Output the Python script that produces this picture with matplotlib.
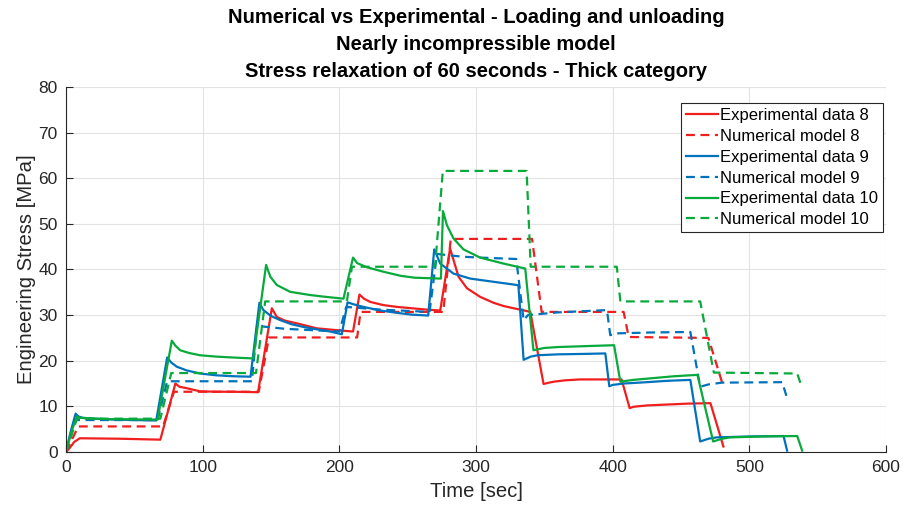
import matplotlib.pyplot as plt

plt.rcParams['font.family'] = ['Liberation Sans', 'DejaVu Sans']

# Experimental data 8 (red, solid)
exp8_t = [0, 3, 6, 10, 12, 40, 69, 80, 83, 88, 98, 110, 122, 140.5,
          150.6, 154.2, 160, 168.8, 183.5, 198, 210, 214.7, 218, 222.5, 232, 242, 253, 264, 273.8,
          281, 283.5, 287.2, 293.3, 303, 312.8, 320, 327.5, 334, 339.7,
          349.4, 352, 356.7, 365, 376, 406.5, 412.4, 415, 425, 440, 455, 471.5, 481]
exp8_s = [0, 1.0, 2.2, 3.0, 3.0, 2.9, 2.7, 15.0, 14.3, 14.0, 13.3, 13.2, 13.2, 13.1,
          31.5, 29.6, 28.8, 28.2, 27.1, 26.7, 26.4, 34.5, 33.6, 32.9, 32.2, 31.8, 31.5, 31.2, 31.0,
          44.6, 42.1, 38.4, 35.9, 34.0, 32.7, 32.0, 31.5, 31.1, 30.7,
          14.9, 15.1, 15.4, 15.7, 15.9, 15.9, 9.6, 9.9, 10.2, 10.4, 10.6, 10.7, 1.2]

# Numerical model 8 (red, dashed)
num8_t = [0, 9, 71, 79, 141, 148.5, 213, 215.5, 276, 281.5, 341, 348, 408, 411.7, 470, 481]
num8_s = [0, 5.6, 5.6, 13.2, 13.2, 25.1, 25.1, 30.7, 30.7, 46.7, 46.7, 30.7, 30.7, 25.2, 25.0, 14.3]

# Experimental data 9 (blue, solid)
exp9_t = [0, 3, 7, 9, 12, 20, 35, 66, 74, 77, 81, 88, 98, 110, 122.5, 135,
          141.5, 144.4, 150, 156.7, 165, 173.7, 183, 193.3, 201.8, 206, 210, 217.6, 230, 242, 253, 265,
          269.4, 273.8, 283.5, 295.8, 312.8, 329.9, 331, 334.8, 340, 345, 360, 380, 394.6,
          397.5, 400, 408, 425, 440, 456.8, 464, 470, 476, 500, 525, 527.6]
exp9_s = [0, 4.0, 8.4, 7.8, 7.5, 7.3, 7.1, 6.9, 20.7, 19.6, 18.7, 17.9, 17.2, 16.8, 16.6, 16.5,
          32.7, 31.1, 29.8, 28.9, 28.0, 27.4, 26.9, 26.4, 25.8, 32.8, 32.4, 31.8, 31.0, 30.5, 30.1, 29.9,
          44.4, 41.3, 39.1, 38.0, 37.3, 36.6, 36.5, 20.2, 20.9, 21.2, 21.4, 21.5, 21.6,
          14.4, 14.7, 15.0, 15.3, 15.6, 15.8, 2.3, 2.9, 3.2, 3.4, 3.5, 0.3]

# Numerical model 9 (blue, dashed)
num9_t = [0, 7, 67, 74, 136, 140, 144, 160, 200, 205, 230, 266, 271.4, 290, 303, 329.4,
          334.8, 338, 360, 395.8, 398.2, 403, 430, 456.8, 464, 470, 480, 524, 527.6]
num9_s = [0, 7.0, 7.0, 15.5, 15.5, 28.3, 27.5, 27.0, 26.4, 31.8, 31.2, 30.7, 43.4, 42.8, 42.6, 42.3,
          28.9, 30.0, 30.6, 31.1, 25.6, 26.0, 26.2, 26.3, 14.3, 14.8, 15.2, 15.3, 11.8]

# Experimental data 10 (green, solid)
exp10_t = [0, 4, 8, 10, 15, 30, 67, 77.4, 80, 83.5, 90, 98, 110, 122.5, 137,
           146.4, 149.5, 154.2, 164, 178.6, 190, 203, 210, 213, 220, 232.3, 245, 255, 274.3,
           275.8, 278.7, 283.5, 290.8, 303, 320, 336,
           342, 350, 360, 380, 401, 405.6, 415, 430, 445, 462, 473.5, 480, 486, 510, 535, 538.6]
exp10_s = [0, 4.5, 7.8, 7.5, 7.4, 7.2, 7.1, 24.4, 23.3, 22.3, 21.7, 21.2, 20.9, 20.7, 20.5,
           41.0, 38.4, 36.6, 35.1, 34.4, 34.0, 33.6, 42.6, 41.4, 40.5, 39.5, 38.6, 38.2, 38.0,
           52.8, 49.7, 46.8, 44.4, 42.6, 41.3, 40.2,
           22.3, 22.8, 23.0, 23.2, 23.4, 15.4, 15.8, 16.2, 16.6, 16.9, 2.3, 2.9, 3.2, 3.4, 3.5, 0.3]

# Numerical model 10 (green, dashed)
num10_t = [0, 8, 69, 77, 139, 145.7, 205.5, 209.2, 270, 275.7, 337, 340, 403, 405.6, 464, 474, 535, 538.6]
num10_s = [0, 7.3, 7.3, 17.3, 17.3, 33.0, 33.0, 40.6, 40.6, 61.6, 61.6, 40.6, 40.6, 33.0, 33.0, 17.4, 17.2, 14.0]

red = '#F01E1E'
blue = '#0072BD'
green = '#09AA3C'
dash = (4, 2.5)

fig = plt.figure(figsize=(9.07, 5.11), dpi=100)
ax = fig.add_axes([0.0728, 0.1155, 0.9041, 0.7143])

ax.plot(exp8_t, exp8_s, color=red, lw=1.6, label='Experimental data 8')
ax.plot(num8_t, num8_s, color=red, lw=1.6, dashes=dash, label='Numerical model 8')
ax.plot(exp9_t, exp9_s, color=blue, lw=1.6, label='Experimental data 9')
ax.plot(num9_t, num9_s, color=blue, lw=1.6, dashes=dash, label='Numerical model 9')
ax.plot(exp10_t, exp10_s, color=green, lw=1.6, label='Experimental data 10')
ax.plot(num10_t, num10_s, color=green, lw=1.6, dashes=dash, label='Numerical model 10')

ax.set_xlim(0, 600)
ax.set_ylim(0, 80)
ax.set_xticks(range(0, 601, 100))
ax.set_yticks(range(0, 81, 10))
ax.grid(True, color='#E3E3E3', lw=0.8)
ax.set_axisbelow(True)
for side in ['top', 'right']:
    ax.spines[side].set_visible(False)
for side in ['left', 'bottom']:
    ax.spines[side].set_color('#262626')
    ax.spines[side].set_linewidth(0.8)
ax.tick_params(direction='in', length=5, width=0.8, colors='#262626', labelsize=12.5, pad=6)

ax.set_xlabel('Time [sec]', fontsize=14.6, color='#262626', labelpad=5)
ax.set_ylabel('Engineering Stress [MPa]', fontsize=14.6, color='#262626', labelpad=2)
ax.set_title('Numerical vs Experimental - Loading and unloading\n'
             'Nearly incompressible model\n'
             'Stress relaxation of 60 seconds - Thick category',
             fontsize=14.5, fontweight='bold', linespacing=1.55, pad=7)

leg = ax.legend(loc='upper right', bbox_to_anchor=(0.9963, 0.956), borderaxespad=0,
                fontsize=12, handlelength=1.9, handletextpad=0.15, labelspacing=0.35,
                borderpad=0.3, fancybox=False, framealpha=1, edgecolor='#262626')
leg.get_frame().set_linewidth(0.8)

fig.savefig('out.png', dpi=100)
